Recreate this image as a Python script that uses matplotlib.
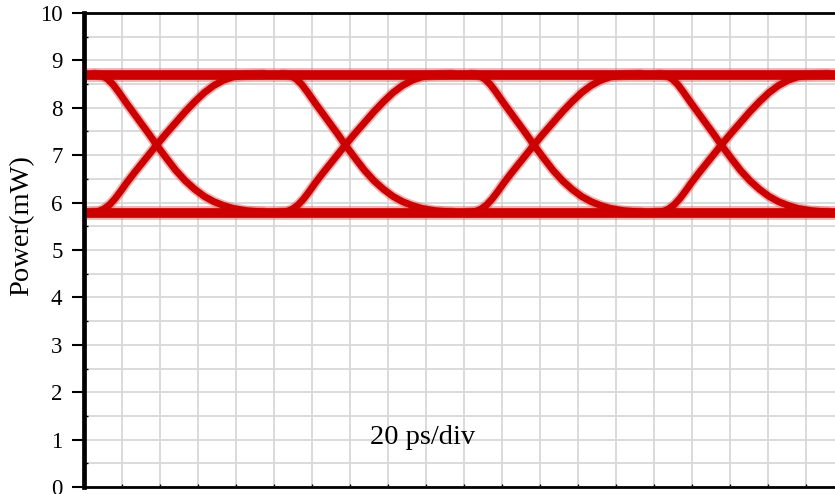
import matplotlib
matplotlib.use("Agg")
import matplotlib.pyplot as plt
import numpy as np
from matplotlib.ticker import MultipleLocator

# ---- eye diagram data (time in ps, power in mW) ----
crossing_times = [38.3, 137.6, 236.8, 335.4]      # centre of each eye crossing
rail_levels = [8.70, 5.79]                         # logic "1" and logic "0" levels

# rising edge, sampled relative to its crossing
rise_offset = [-35, -31, -28, -25, -22, -19, -16, -12, -8, -4, 0, 5, 10, 15, 20, 25, 30, 35, 40, 47, 56]
rise_power = [5.79, 5.81, 5.86, 5.95, 6.08, 6.24, 6.41, 6.62, 6.82, 7.02, 7.22, 7.46, 7.69, 7.92,
              8.13, 8.32, 8.47, 8.58, 8.65, 8.69, 8.71]

# falling edge, sampled relative to its crossing
fall_offset = [-33, -29, -26, -23, -20, -16, -12, -8, -4, 0, 5, 10, 15, 20, 25, 30, 35, 40, 47, 56]
fall_power = [8.71, 8.68, 8.61, 8.49, 8.33, 8.10, 7.88, 7.66, 7.44, 7.21, 6.94, 6.68, 6.46, 6.28,
              6.13, 6.02, 5.94, 5.88, 5.83, 5.80]

time_span = [0, 396]
power_span = [0, 10]
y_ticks = [0, 1, 2, 3, 4, 5, 6, 7, 8, 9, 10]
scale_note = "20 ps/div"
y_label = "Power(mW)"

plt.rcParams['font.family'] = ['Liberation Serif', 'DejaVu Serif']

W, H = 835, 494
fig = plt.figure(figsize=(W / 100, H / 100), dpi=100)
ax = fig.add_axes([84 / W, 7 / H, 1 - 84 / W + 0.002, 474 / H])

ax.set_xlim(time_span)
ax.set_ylim(power_span)

# grid
ax.xaxis.set_major_locator(MultipleLocator(20))
ax.yaxis.set_major_locator(MultipleLocator(1))
ax.yaxis.set_minor_locator(MultipleLocator(0.5))
ax.grid(True, which='both', color='#d8d8d8', linewidth=1.3, zorder=0)
ax.set_axisbelow(True)

# traces
main_c = '#cc0000'
halo_c = '#e06a6a'
for lvl in rail_levels:
    ax.axhline(lvl, color=halo_c, lw=10, alpha=0.5, solid_capstyle='butt', zorder=2)
    ax.axhline(lvl, color=main_c, lw=7.0, solid_capstyle='butt', zorder=3)

for c in crossing_times:
    rt = np.asarray(rise_offset) + c
    ft = np.asarray(fall_offset) + c
    for t, p in ((rt, rise_power), (ft, fall_power)):
        ax.plot(t, p, color=halo_c, lw=7.5, alpha=0.5, solid_joinstyle='round',
                solid_capstyle='round', zorder=2)
        ax.plot(t, p, color=main_c, lw=5.0, solid_joinstyle='round',
                solid_capstyle='round', zorder=3)

# spines
ax.spines['right'].set_visible(False)
ax.spines['left'].set_linewidth(3.4)
ax.spines['top'].set_linewidth(2.0)
ax.spines['bottom'].set_linewidth(2.0)
for s in ('left', 'top', 'bottom'):
    ax.spines[s].set_zorder(5)

# ticks
ax.set_yticks(y_ticks)
ax.set_yticklabels([str(v) for v in y_ticks])
ax.tick_params(axis='y', which='major', direction='out', length=8.5, width=1.5,
               labelsize=16.5, pad=7, color='black')
ax.tick_params(axis='y', which='minor', direction='in', length=3, width=1.0, color='black')
ax.tick_params(axis='x', which='major', direction='in', length=2.5, width=1.0,
               labelbottom=False, color='black')

fig.text(22 / W, 1 - 226 / H, y_label, rotation=90, fontsize=20.5,
         ha='center', va='center')
ax.text(178, 1.05, scale_note, fontsize=20.5, ha='center', va='center', zorder=6)

fig.savefig('out.png', dpi=100)
